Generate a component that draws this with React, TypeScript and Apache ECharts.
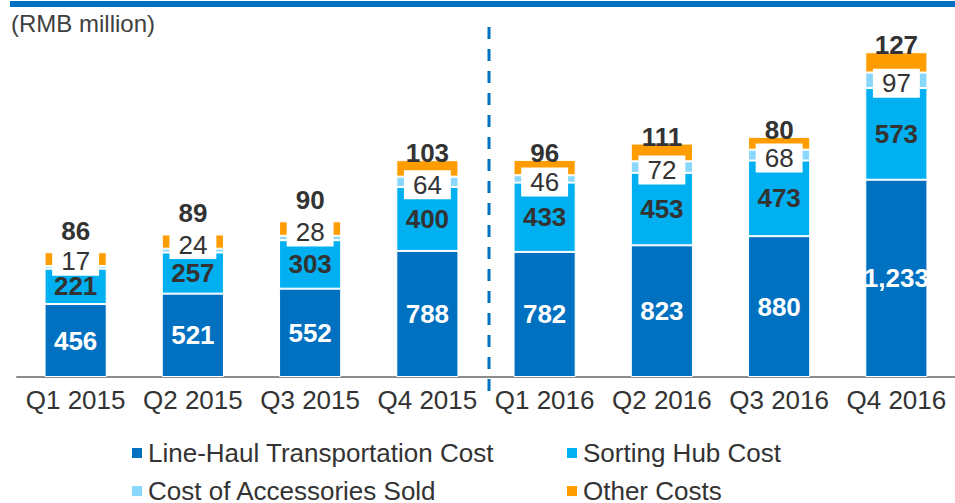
import React, { useEffect, useRef } from "react";
import * as echarts from "echarts";

const categories = ["Q1 2015", "Q2 2015", "Q3 2015", "Q4 2015", "Q1 2016", "Q2 2016", "Q3 2016", "Q4 2016"];
const lineHaul = [456, 521, 552, 788, 782, 823, 880, 1233];
const sortingHub = [221, 257, 303, 400, 433, 453, 473, 573];
const accessories = [17, 24, 28, 64, 46, 72, 68, 97];
const otherCosts = [86, 89, 90, 103, 96, 111, 80, 127];
const seriesNames = [
  "Line-Haul Transportation Cost",
  "Sorting Hub Cost",
  "Cost of Accessories Sold",
  "Other Costs",
];
const unitLabel = "(RMB million)";
const dividerAfter = "Q4 2015";
const dividerBefore = "Q1 2016";

const FONT = "'Liberation Sans', Arial, sans-serif";
const COLORS = ["#0070C0", "#00B0F0", "#89D7FB", "#FF9C00"];
const TEXT = "#333333";

const fmt = (v: number) => v.toLocaleString("en-US");
const isSmallTop = (i: number) => accessories[i] < 40;

export default function App() {
  const ref = useRef<HTMLDivElement>(null);

  useEffect(() => {
    if (!ref.current) return;
    const chart = echarts.init(ref.current, undefined, { renderer: "svg" });

    const baseBar = {
      type: "bar" as const,
      stack: "total",
      barCategoryGap: "47%",
      itemStyle: { borderColor: "#ffffff", borderWidth: 1 },
    };

    const legendBase = {
      orient: "vertical",
      top: 435,
      height: 80,
      icon: "rect",
      itemWidth: 12,
      itemHeight: 12,
      itemGap: 12,
      textStyle: { color: TEXT, fontSize: 26, fontFamily: FONT, lineHeight: 26 },
    };

    const option: any = {
      animation: false,
      textStyle: { fontFamily: FONT },
      grid: { left: 17, right: -4, top: 25, bottom: 126, containLabel: false },
      xAxis: {
        type: "category",
        data: categories,
        axisTick: { show: false },
        axisLine: { lineStyle: { color: "#8C8C8C", width: 2 } },
        axisLabel: { color: TEXT, fontSize: 26, fontFamily: FONT, margin: 10, interval: 0 },
      },
      yAxis: { type: "value", min: 0, max: 2200, show: false, splitLine: { show: false } },
      legend: [
        { ...legendBase, data: [seriesNames[0], seriesNames[2]], left: 125 },
        { ...legendBase, data: [seriesNames[1], seriesNames[3]], left: 560 },
      ],
      series: [
        {
          ...baseBar,
          name: seriesNames[0],
          data: lineHaul,
          itemStyle: { ...baseBar.itemStyle, color: COLORS[0] },
          label: {
            show: true,
            position: "inside",
            color: "#ffffff",
            fontWeight: "bold",
            fontSize: 26,
            fontFamily: FONT,
            lineHeight: 22,
            textBorderWidth: 0,
            formatter: (p: any) => fmt(p.value),
          },
        },
        {
          ...baseBar,
          name: seriesNames[1],
          data: sortingHub,
          itemStyle: { ...baseBar.itemStyle, color: COLORS[1] },
          label: {
            show: true,
            position: "inside",
            color: TEXT,
            fontWeight: "bold",
            fontSize: 26,
            fontFamily: FONT,
            lineHeight: 22,
            textBorderWidth: 0,
            formatter: (p: any) => fmt(p.value),
          },
        },
        {
          ...baseBar,
          name: seriesNames[2],
          data: accessories.map((v, i) => ({
            value: v,
            label: { offset: [0, isSmallTop(i) ? -6 : 3] },
          })),
          itemStyle: { ...baseBar.itemStyle, color: COLORS[2] },
          label: {
            show: true,
            position: "inside",
            color: TEXT,
            fontSize: 26,
            fontFamily: FONT,
            lineHeight: 24,
            backgroundColor: "#ffffff",
            padding: [3, 9, 2, 9],
            textBorderWidth: 0,
            formatter: (p: any) => fmt(p.value),
          },
        },
        {
          ...baseBar,
          name: seriesNames[3],
          data: otherCosts.map((v, i) => ({
            value: v,
            label: { distance: isSmallTop(i) ? 8 : -6 },
          })),
          itemStyle: { ...baseBar.itemStyle, color: COLORS[3] },
          label: {
            show: true,
            position: "top",
            color: TEXT,
            fontWeight: "bold",
            fontSize: 26,
            fontFamily: FONT,
            lineHeight: 26,
            textBorderWidth: 0,
            formatter: (p: any) => fmt(p.value),
          },
        },
      ],
    };

    chart.setOption(option);

    const xA = chart.convertToPixel({ xAxisIndex: 0 }, dividerAfter) as number;
    const xB = chart.convertToPixel({ xAxisIndex: 0 }, dividerBefore) as number;
    const yTop = chart.convertToPixel({ yAxisIndex: 0 }, 2200) as number;
    const yBase = chart.convertToPixel({ yAxisIndex: 0 }, 0) as number;
    const xDiv = (xA + xB) / 2 + 3;

    chart.setOption({
      graphic: [
        {
          type: "rect",
          shape: { x: 10, y: 1, width: 945, height: 6 },
          style: { fill: "#0070C0" },
          silent: true,
        },
        {
          type: "text",
          x: 11,
          y: 11,
          style: {
            text: unitLabel,
            fill: "#404040",
            fontSize: 24,
            fontFamily: FONT,
            textVerticalAlign: "top",
          },
          silent: true,
        },
        {
          type: "line",
          shape: { x1: xDiv, y1: yTop + 2, x2: xDiv, y2: yBase + 18 },
          style: { stroke: "#0070C0", lineWidth: 3, lineDash: [12, 10] },
          silent: true,
          z: 10,
        },
      ],
    });

    return () => chart.dispose();
  }, []);

  return (
    <div
      ref={ref}
      style={{ position: "absolute", left: 0, top: 0, width: 955, height: 503, background: "#fff" }}
    />
  );
}
